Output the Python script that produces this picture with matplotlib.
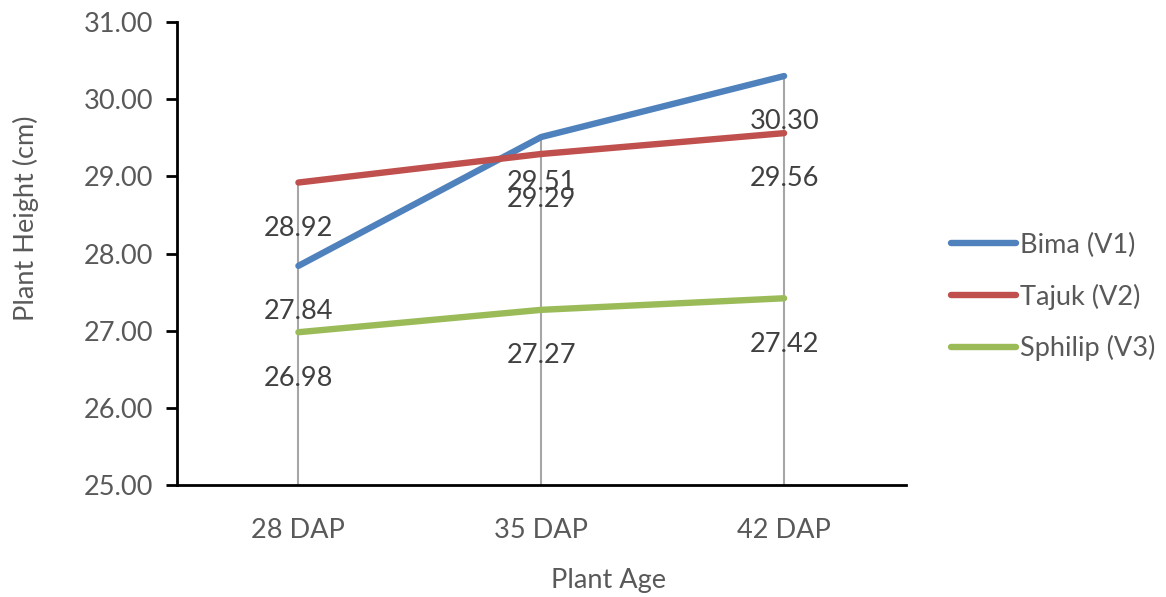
import matplotlib
matplotlib.use("Agg")
import matplotlib.pyplot as plt
import numpy as np

plt.rcParams["font.family"] = ["Lato", "DejaVu Sans"]

ages = ["28 DAP", "35 DAP", "42 DAP"]
bima = [27.84, 29.51, 30.30]
tajuk = [28.92, 29.29, 29.56]
sphilip = [26.98, 27.27, 27.42]
names = ["Bima (V1)", "Tajuk (V2)", "Sphilip (V3)"]
colors = ["#4F81BD", "#C0504D", "#9BBB59"]

TXT = "#595959"
FS = 19.5

fig = plt.figure(figsize=(11.66, 5.97), dpi=100)
ax = fig.add_axes([0.1518, 0.1876, 0.6248, 0.7755])

x = np.arange(len(ages))
series = [bima, tajuk, sphilip]

# drop lines from the highest point at each age down to the axis
tops = np.max(np.array(series), axis=0)
ax.vlines(x, 25, tops, color="#A6A6A6", lw=1.5, zorder=1)

for vals, name, c in zip(series, names, colors):
    ax.plot(x, vals, color=c, lw=4.6, solid_capstyle="round", label=name, zorder=3)
    for xi, v in zip(x, vals):
        ax.annotate(f"{v:.2f}", (xi, v), xytext=(0, -33), textcoords="offset points",
                    ha="center", va="center", fontsize=FS, color="#404040", zorder=4)

ax.set_xlim(-0.5, 2.5)
ax.set_ylim(25, 31)
ax.set_yticks(np.arange(25, 31.5, 1))
ax.set_yticklabels([f"{v:.2f}" for v in np.arange(25, 31.5, 1)])
ax.set_xticks(x)
ax.set_xticklabels(ages)

for s in ["top", "right"]:
    ax.spines[s].set_visible(False)
for s in ["left", "bottom"]:
    ax.spines[s].set_linewidth(2)
    ax.spines[s].set_color("black")
ax.tick_params(axis="y", length=8, width=2, color="black", labelsize=FS, labelcolor=TXT, pad=9)
ax.tick_params(axis="x", length=0, labelsize=FS, labelcolor=TXT, pad=24)

fig.text(0.5216, 0.028, "Plant Age", ha="center", va="center", fontsize=FS, color=TXT)
fig.text(0.022, 0.635, "Plant Height (cm)", ha="center", va="center", rotation=90,
         fontsize=FS, color=TXT)

ax.legend(loc="center left", bbox_to_anchor=(1.062, 0.406), frameon=False, fontsize=FS,
          labelcolor=TXT, handlelength=2.4, handletextpad=0.15, labelspacing=0.95,
          borderpad=0, borderaxespad=0)

fig.savefig("out.png", dpi=100)
